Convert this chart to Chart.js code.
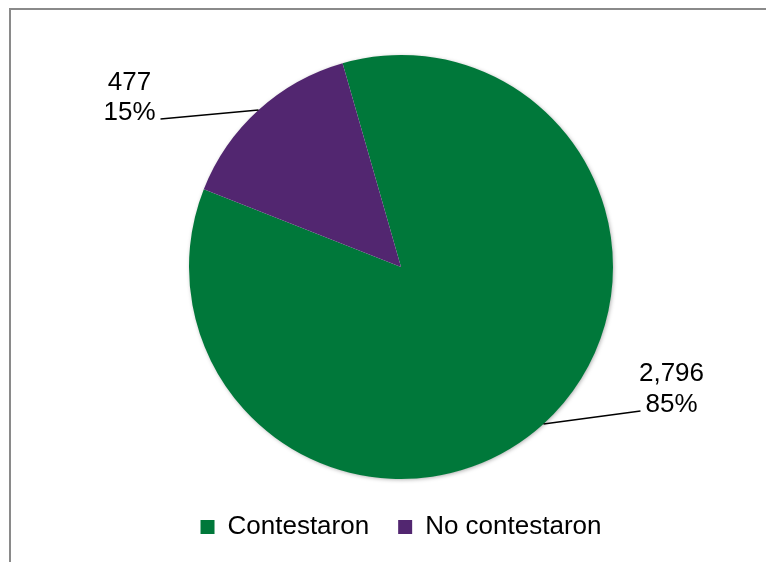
<!DOCTYPE html>
<html>
<head>
<meta charset="utf-8">
<script src="https://cdn.jsdelivr.net/npm/chart.js@4/dist/chart.umd.min.js"></script>
<style>
  html, body { margin: 0; padding: 0; background: #fff; }
  #wrap { position: relative; width: 766px; height: 562px; }
  #frame { position: absolute; left: 9px; top: 8px; right: 0; bottom: 0;
           border-top: 2px solid #8a8a8a; border-left: 2px solid #8a8a8a; }
  canvas { position: absolute; left: 0; top: 0; }
</style>
</head>
<body>
<div id="wrap">
  <div id="frame"></div>
  <canvas id="pieChart" width="766" height="562"></canvas>
</div>
<script>
// respuestas de la encuesta
const categories = ["Contestaron", "No contestaron"];
const values = [2796, 477];
const colors = ["#00783A", "#522670"];

// where each label sits relative to the slice edge (x, y)
const labelOffsets = [[97, -13], [-98, 9]];
const labelFont = "26px 'Liberation Sans', Arial, sans-serif";

// draws a soft shadow under the whole pie
const pieShadow = {
    id: "pieShadow",
    beforeDatasetsDraw(chart) {
        const arc = chart.getDatasetMeta(0).data[0];
        if (!arc) return;
        const {x, y, outerRadius} = arc.getProps(["x", "y", "outerRadius"], true);
        const ctx = chart.ctx;
        ctx.save();
        ctx.shadowColor = "rgba(0,0,0,0.35)";
        ctx.shadowBlur = 4;
        ctx.shadowOffsetX = 1;
        ctx.shadowOffsetY = 1;
        ctx.fillStyle = "#fff";
        ctx.beginPath();
        ctx.arc(x, y, outerRadius - 0.5, 0, Math.PI * 2);
        ctx.fill();
        ctx.restore();
    }
};

// value + percent labels with leader lines
const pieLabels = {
    id: "pieLabels",
    afterDatasetsDraw(chart) {
        const ctx = chart.ctx;
        const data = chart.data.datasets[0].data;
        const total = data.reduce((a, b) => a + b, 0);
        chart.getDatasetMeta(0).data.forEach((arc, i) => {
            const {x, y, startAngle, endAngle, outerRadius} =
                arc.getProps(["x", "y", "startAngle", "endAngle", "outerRadius"], true);
            const mid = (startAngle + endAngle) / 2;
            const ex = x + Math.cos(mid) * outerRadius;
            const ey = y + Math.sin(mid) * outerRadius;
            const lx = ex + labelOffsets[i][0];
            const ly = ey + labelOffsets[i][1];
            const right = labelOffsets[i][0] > 0;

            ctx.save();
            ctx.strokeStyle = "#000";
            ctx.lineWidth = 1.5;
            ctx.beginPath();
            ctx.moveTo(ex, ey);
            ctx.lineTo(lx, ly);
            ctx.stroke();

            const tx = right ? lx + 31 : lx - 31;
            ctx.font = labelFont;
            ctx.fillStyle = "#000";
            ctx.textAlign = "center";
            ctx.textBaseline = "alphabetic";
            ctx.fillText(data[i].toLocaleString("en-US"), tx, ly - 29.5);
            ctx.fillText(Math.round(data[i] / total * 100) + "%", tx, ly + 1);
            ctx.restore();
        });
    }
};

new Chart(document.getElementById("pieChart"), {
    type: "pie",
    data: {
        labels: categories,
        datasets: [
            {
                label: "Encuesta",
                data: values,
                backgroundColor: colors,
                borderWidth: 0,
                radius: 212,
            }
        ]
    },
    options: {
        responsive: false,
        animation: false,
        rotation: -16,
        layout: {
            padding: {top: 49, left: 36, right: 0, bottom: 12}
        },
        plugins: {
            legend: {
                position: "bottom",
                labels: {
                    boxWidth: 14,
                    boxHeight: 14,
                    padding: 29,
                    color: "#000",
                    font: {family: "'Liberation Sans', Arial, sans-serif", size: 26}
                }
            },
            tooltip: {enabled: false}
        }
    },
    plugins: [pieShadow, pieLabels]
});
</script>
</body>
</html>
